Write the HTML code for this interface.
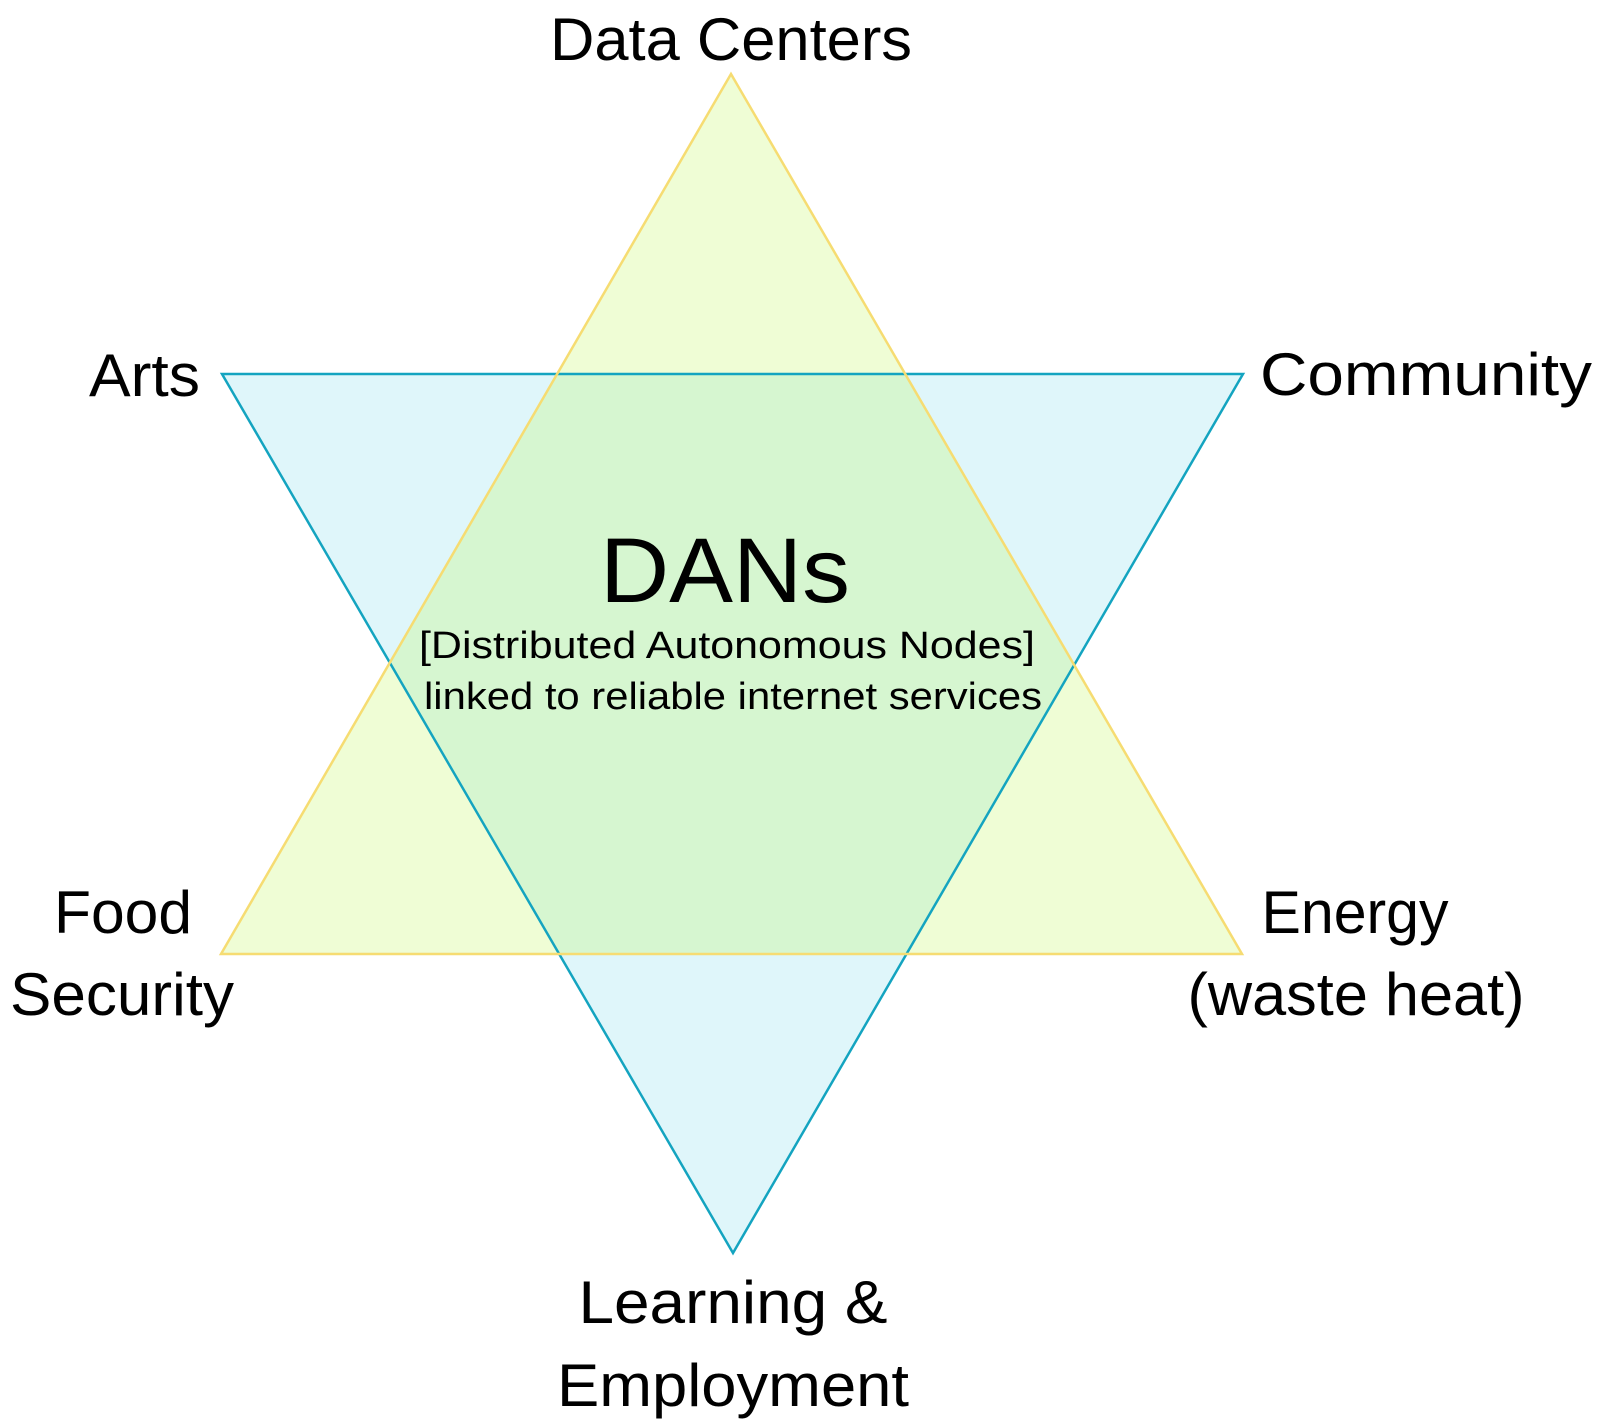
<!DOCTYPE html>
<html><head><meta charset="utf-8"><style>
html,body{margin:0;padding:0;background:#fff}
svg{display:block}
text{font-family:"Liberation Sans",sans-serif;fill:#000}
</style></head><body>
<svg width="1600" height="1428" viewBox="0 0 1600 1428" xmlns="http://www.w3.org/2000/svg">
<polygon points="731,74 1242,954 221,954" fill="#effdd5"/>
<polygon points="222,374 1243,374 733,1253" fill="#dff6fa"/>
<polygon points="557,374 905,374 1074,666 906,954 559,954 390,663" fill="#d6f6d0"/>
<polygon points="222,374 1243,374 733,1253" fill="none" stroke="#14a4c0" stroke-width="2.5"/>
<polygon points="731,74 1242,954 221,954" fill="none" stroke="#f6dc72" stroke-width="2.5"/>
<text x="731" y="60" font-size="60" text-anchor="middle" textLength="362" lengthAdjust="spacingAndGlyphs">Data Centers</text>
<text x="200" y="396" font-size="60" text-anchor="end" textLength="111" lengthAdjust="spacingAndGlyphs">Arts</text>
<text x="1260" y="395" font-size="60" textLength="332" lengthAdjust="spacingAndGlyphs">Community</text>
<text x="123" y="933" font-size="60" text-anchor="middle" textLength="138" lengthAdjust="spacingAndGlyphs">Food</text>
<text x="122" y="1015" font-size="60" text-anchor="middle" textLength="224" lengthAdjust="spacingAndGlyphs">Security</text>
<text x="1355" y="933" font-size="60" text-anchor="middle" textLength="187" lengthAdjust="spacingAndGlyphs">Energy</text>
<text x="1356" y="1015" font-size="60" text-anchor="middle" textLength="337" lengthAdjust="spacingAndGlyphs">(waste heat)</text>
<text x="733" y="1323" font-size="60" text-anchor="middle" textLength="309" lengthAdjust="spacingAndGlyphs">Learning &amp;</text>
<text x="733" y="1406" font-size="60" text-anchor="middle" textLength="352" lengthAdjust="spacingAndGlyphs">Employment</text>
<text x="725" y="602" font-size="92" text-anchor="middle" textLength="250" lengthAdjust="spacingAndGlyphs">DANs</text>
<text x="727" y="658" font-size="38" text-anchor="middle" textLength="616" lengthAdjust="spacingAndGlyphs">[Distributed Autonomous Nodes]</text>
<text x="733" y="709" font-size="38" text-anchor="middle" textLength="618" lengthAdjust="spacingAndGlyphs">linked to reliable internet services</text>
</svg>
</body></html>
